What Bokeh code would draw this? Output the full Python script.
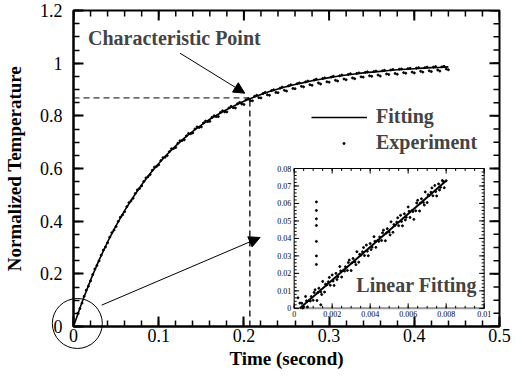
import math
from bokeh.plotting import figure
from bokeh.models import (Range1d, FixedTicker, Arrow, NormalHead, Label, Legend, LegendItem)
from bokeh.core.properties import value
from bokeh.embed import file_html
from bokeh.resources import INLINE

# ---------------- data ----------------
fit_t = [0.0, 0.01, 0.02, 0.03, 0.04, 0.05, 0.06, 0.07, 0.08, 0.09, 0.10, 0.11, 0.12, 0.13, 0.14,
         0.15, 0.16, 0.17, 0.18, 0.19, 0.20, 0.21, 0.22, 0.23, 0.24, 0.25, 0.26, 0.27, 0.28, 0.29,
         0.30, 0.31, 0.32, 0.33, 0.34, 0.35, 0.36, 0.37, 0.38, 0.39, 0.40, 0.41, 0.42, 0.43, 0.44]
fit_y = [0.0, 0.092, 0.176, 0.252, 0.321, 0.383, 0.440, 0.491, 0.538, 0.581, 0.619, 0.654, 0.686,
         0.715, 0.741, 0.765, 0.787, 0.806, 0.824, 0.840, 0.855, 0.869, 0.881, 0.892, 0.902, 0.911,
         0.919, 0.926, 0.933, 0.939, 0.945, 0.950, 0.955, 0.959, 0.963, 0.966, 0.969, 0.972, 0.975,
         0.977, 0.979, 0.981, 0.983, 0.984, 0.986]

exp_t_a = [0.005, 0.010, 0.015, 0.020, 0.025, 0.030, 0.035, 0.040, 0.045, 0.050, 0.055, 0.060,
           0.065, 0.070, 0.075, 0.080, 0.085, 0.090, 0.095, 0.100, 0.105, 0.110, 0.115, 0.120,
           0.125, 0.130, 0.135, 0.140, 0.145, 0.150, 0.155, 0.160, 0.165, 0.170, 0.175, 0.180,
           0.185, 0.190, 0.195, 0.200, 0.205, 0.210, 0.215, 0.220, 0.225, 0.230, 0.235, 0.240,
           0.245, 0.250, 0.255, 0.260, 0.265, 0.270, 0.275, 0.280, 0.285, 0.290, 0.295, 0.300,
           0.305, 0.310, 0.315, 0.320, 0.325, 0.330, 0.335, 0.340, 0.345, 0.350, 0.355, 0.360,
           0.365, 0.370, 0.375, 0.380, 0.385, 0.390, 0.395, 0.400, 0.405, 0.410, 0.415, 0.420,
           0.425, 0.430, 0.435, 0.440]
exp_y_a = [0.050, 0.089, 0.138, 0.173, 0.218, 0.249, 0.290, 0.318, 0.356, 0.380, 0.415, 0.436,
           0.470, 0.487, 0.519, 0.534, 0.564, 0.577, 0.605, 0.614, 0.641, 0.649, 0.675, 0.680,
           0.705, 0.709, 0.733, 0.735, 0.758, 0.758, 0.780, 0.779, 0.800, 0.797, 0.819, 0.815,
           0.836, 0.830, 0.851, 0.843, 0.865, 0.857, 0.878, 0.868, 0.889, 0.878, 0.899, 0.888,
           0.909, 0.894, 0.918, 0.903, 0.925, 0.910, 0.932, 0.916, 0.939, 0.921, 0.944, 0.928,
           0.950, 0.932, 0.955, 0.937, 0.960, 0.941, 0.963, 0.947, 0.967, 0.950, 0.970, 0.951,
           0.973, 0.957, 0.976, 0.958, 0.978, 0.962, 0.981, 0.963, 0.983, 0.966, 0.985, 0.968,
           0.987, 0.970, 0.988, 0.975]
exp_t_b = [0.0075, 0.0125, 0.0175, 0.0225, 0.0275, 0.0325, 0.0375, 0.0425, 0.0475, 0.0525,
           0.0575, 0.0625, 0.0675, 0.0725, 0.0775, 0.0825, 0.0875, 0.0925, 0.0975, 0.1025,
           0.1075, 0.1125, 0.1175, 0.1225, 0.1275, 0.1325, 0.1375, 0.1425, 0.1475, 0.1525,
           0.1575, 0.1625, 0.1675, 0.1725, 0.1775, 0.1825, 0.1875, 0.1925, 0.1975, 0.2025,
           0.2075, 0.2125, 0.2175, 0.2225, 0.2275, 0.2325, 0.2375, 0.2425, 0.2475, 0.2525,
           0.2575, 0.2625, 0.2675, 0.2725, 0.2775, 0.2825, 0.2875, 0.2925, 0.2975, 0.3025,
           0.3075, 0.3125, 0.3175, 0.3225, 0.3275, 0.3325, 0.3375, 0.3425, 0.3475, 0.3525,
           0.3575, 0.3625, 0.3675, 0.3725, 0.3775, 0.3825, 0.3875, 0.3925, 0.3975, 0.4025,
           0.4075, 0.4125, 0.4175, 0.4225, 0.4275, 0.4325, 0.4375]
exp_y_b = [0.068, 0.115, 0.153, 0.197, 0.232, 0.271, 0.302, 0.339, 0.366, 0.399, 0.424, 0.455,
           0.477, 0.505, 0.524, 0.551, 0.569, 0.593, 0.608, 0.630, 0.643, 0.664, 0.676, 0.696,
           0.706, 0.724, 0.732, 0.750, 0.756, 0.773, 0.778, 0.794, 0.797, 0.813, 0.815, 0.830,
           0.831, 0.846, 0.845, 0.861, 0.858, 0.874, 0.869, 0.885, 0.880, 0.896, 0.889, 0.905,
           0.897, 0.914, 0.904, 0.922, 0.912, 0.929, 0.918, 0.936, 0.925, 0.942, 0.929, 0.947,
           0.935, 0.952, 0.940, 0.957, 0.944, 0.961, 0.948, 0.965, 0.952, 0.968, 0.955, 0.971,
           0.959, 0.974, 0.961, 0.977, 0.964, 0.979, 0.966, 0.981, 0.969, 0.983, 0.971, 0.985,
           0.974, 0.986, 0.978]

char_t = 0.207     # characteristic point (time)
char_y = 0.868     # characteristic point (normalized temperature)

zoom_t = [0.0045]  # circled region near the origin
zoom_y = [0.0115]

ins_fit_t = [0.0003, 0.0080]
ins_fit_y = [0.0, 0.073]
ins_t = [0.0004, 0.0005, 0.0006, 0.0007, 0.0008, 0.0009, 0.0010, 0.0011, 0.0012, 0.0013,
         0.0014, 0.0015, 0.0016, 0.0017, 0.0018, 0.0019, 0.0020, 0.0021, 0.0022, 0.0023,
         0.0024, 0.0025, 0.0026, 0.0027, 0.0028, 0.0029, 0.0030, 0.0031, 0.0032, 0.0033,
         0.0034, 0.0035, 0.0036, 0.0037, 0.0038, 0.0039, 0.0040, 0.0041, 0.0042, 0.0043,
         0.0044, 0.0045, 0.0046, 0.0047, 0.0048, 0.0049, 0.0050, 0.0051, 0.0052, 0.0053,
         0.0054, 0.0055, 0.0056, 0.0057, 0.0058, 0.0059, 0.0060, 0.0061, 0.0062, 0.0063,
         0.0064, 0.0065, 0.0066, 0.0067, 0.0068, 0.0069, 0.0070, 0.0071, 0.0072, 0.0073,
         0.0074, 0.0075, 0.0076, 0.0077, 0.0078, 0.0079, 0.0080,
         0.00045, 0.00065, 0.00085, 0.00105, 0.00125, 0.00145, 0.00165, 0.00185, 0.00205,
         0.00225, 0.00245, 0.00265, 0.00285, 0.00305, 0.00325, 0.00345, 0.00365, 0.00385,
         0.00405, 0.00425, 0.00445, 0.00465, 0.00485, 0.00505, 0.00525, 0.00545, 0.00565,
         0.00585, 0.00605, 0.00625, 0.00645, 0.00665, 0.00685, 0.00705, 0.00725, 0.00745,
         0.00765, 0.00785,
         0.00117, 0.00117, 0.00117, 0.00117, 0.00117, 0.00117, 0.00117,
         0.0002, 0.0003, 0.0014]
ins_y = [0.0029, 0.0009, 0.0068, 0.0008, 0.0047, 0.0067, 0.0046, 0.0106, 0.0045, 0.0115,
         0.0094, 0.0154, 0.0093, 0.0133, 0.0152, 0.0132, 0.0191, 0.0131, 0.0200, 0.0180,
         0.0239, 0.0179, 0.0218, 0.0238, 0.0217, 0.0276, 0.0216, 0.0285, 0.0265, 0.0324,
         0.0264, 0.0303, 0.0323, 0.0302, 0.0362, 0.0301, 0.0371, 0.0350, 0.0410, 0.0349,
         0.0389, 0.0408, 0.0388, 0.0447, 0.0387, 0.0456, 0.0436, 0.0495, 0.0435, 0.0474,
         0.0493, 0.0473, 0.0532, 0.0472, 0.0541, 0.0521, 0.0580, 0.0520, 0.0559, 0.0509,
         0.0558, 0.0618, 0.0557, 0.0627, 0.0606, 0.0666, 0.0605, 0.0645, 0.0664, 0.0644,
         0.0703, 0.0643, 0.0712, 0.0692, 0.0731, 0.0690, 0.0730,
         0.0002, 0.0043, 0.0042, 0.0091, 0.0090, 0.0079, 0.0138, 0.0177, 0.0156,
         0.0165, 0.0214, 0.0213, 0.0262, 0.0261, 0.0250, 0.0309, 0.0348, 0.0327,
         0.0336, 0.0384, 0.0383, 0.0432, 0.0431, 0.0420, 0.0479, 0.0518, 0.0497,
         0.0506, 0.0555, 0.0554, 0.0603, 0.0602, 0.0591, 0.0650, 0.0689, 0.0668,
         0.0677, 0.0726,
         0.0609, 0.0560, 0.0512, 0.0474, 0.0383, 0.0300, 0.0251,
         0.0060, 0.0030, 0.0020]

x_ticks = [0, 0.1, 0.2, 0.3, 0.4, 0.5]
x_tick_labels = ["0", "0.1", "0.2", "0.3", "0.4", "0.5"]
y_ticks = [0, 0.2, 0.4, 0.6, 0.8, 1.0, 1.2]
y_tick_labels = ["0", "0.2", "0.4", "0.6", "0.8", "1", "1.2"]
ins_x_ticks = [0, 0.002, 0.004, 0.006, 0.008, 0.01]
ins_x_labels = ["0", "0.002", "0.004", "0.006", "0.008", "0.01"]
ins_y_ticks = [0, 0.01, 0.02, 0.03, 0.04, 0.05, 0.06, 0.07, 0.08]
ins_y_labels = ["0", "0.01", "0.02", "0.03", "0.04", "0.05", "0.06", "0.07", "0.08"]

# ---------------- layout constants ----------------
SERIF = "Liberation Serif"
X0, X1, Y0, Y1 = 0.0, 0.5, 0.0, 1.2
# inset box expressed in main-data units (left, right, bottom, top)
IB_L, IB_R, IB_B, IB_T = 0.259, 0.482, 0.069, 0.600

p = figure(width=511, height=371, x_range=Range1d(X0, X1), y_range=Range1d(Y0, Y1),
           output_backend="svg", toolbar_location=None,
           min_border_left=0, min_border_top=10, min_border_right=12, min_border_bottom=0)
p.grid.visible = False
p.outline_line_color = "black"
p.outline_line_width = 2
p.background_fill_color = "white"

x_minor = [round(0.02 * i, 4) for i in range(26)]
y_minor = [round(0.05 * i, 4) for i in range(25)]


def style_axis(ax, ticks, minor, labels):
    ax.ticker = FixedTicker(ticks=ticks, minor_ticks=minor)
    ax.axis_line_width = 2
    ax.axis_line_color = "black"
    ax.major_tick_in = 10
    ax.major_tick_out = 0
    ax.minor_tick_in = 6
    ax.minor_tick_out = 0
    ax.major_tick_line_width = 2
    ax.minor_tick_line_width = 1.5
    ax.major_label_text_font = SERIF
    ax.major_label_text_font_size = "18px"
    ax.major_label_text_color = "black"
    ax.axis_label_text_font = SERIF
    ax.axis_label_text_font_style = "bold"
    ax.axis_label_text_font_size = "19px"
    ax.axis_label_text_color = "black"
    ax.major_label_overrides = {t: l for t, l in zip(ticks, labels)}


xa = p.xaxis[0]
style_axis(xa, x_ticks, x_minor, x_tick_labels)
xa.axis_label = "Time (second)"
xa.major_label_standoff = 2
xa.axis_label_standoff = 3

ya = p.yaxis[0]
style_axis(ya, y_ticks, y_minor, y_tick_labels)
ya.axis_label = "Normalized Temperature"
ya.major_label_standoff = 11
ya.axis_label_standoff = 12

# inward ticks on the top and right edges of the frame
for xs, ys, ang, ln, lw in [
    (x_ticks, [Y1] * len(x_ticks), -math.pi / 2, 10, 2),
    (x_minor, [Y1] * len(x_minor), -math.pi / 2, 6, 1.5),
    ([X1] * len(y_ticks), y_ticks, math.pi, 10, 2),
    ([X1] * len(y_minor), y_minor, math.pi, 6, 1.5),
]:
    p.ray(x=xs, y=ys, length=ln, angle=ang, length_units="screen",
          line_color="black", line_width=lw)

# dashed guides to the characteristic point
p.line([X0, char_t], [char_y, char_y], line_color="black", line_width=1, line_dash="6 4")
p.line([char_t, char_t], [Y0, char_y], line_color="black", line_width=1.3, line_dash="6 4")

# main curves
r_fit = p.line(fit_t, fit_y, line_color="black", line_width=1.6)
r_exp = p.scatter(exp_t_a + exp_t_b, exp_y_a + exp_y_b, marker="circle", size=2.0,
                  fill_color="black", line_color="black")

# circle around origin (overlay level so it is not clipped to the frame)
p.scatter(zoom_t, zoom_y, marker="circle", size=50, fill_alpha=0, line_color="black",
          line_width=1, level="overlay")

# legends
leg_style = dict(background_fill_alpha=0, border_line_color=None, label_text_font=SERIF,
                 label_text_font_style="bold", label_text_font_size="20px",
                 glyph_height=18, label_height=18, spacing=0, padding=0, margin=0)
p.add_layout(Legend(items=[LegendItem(label="Fitting", renderers=[r_fit])],
                    location=(238, 198), glyph_width=56, label_standoff=9, **leg_style))
p.add_layout(Legend(items=[LegendItem(label="Experiment", renderers=[r_exp])],
                    location=(268, 172), glyph_width=5, label_standoff=30, **leg_style))

# annotations
p.add_layout(Label(x=0.017, y=1.096, text="Characteristic Point", text_font=SERIF,
                   text_font_style="bold", text_font_size="20px", text_baseline="middle"))
p.add_layout(Arrow(end=NormalHead(size=11, fill_color="black", line_color="black"),
                   x_start=0.125, y_start=1.038, x_end=0.201, y_end=0.886,
                   line_color="black", line_width=1))
p.add_layout(Arrow(end=NormalHead(size=11, fill_color="black", line_color="black"),
                   x_start=0.033, y_start=0.081, x_end=0.219, y_end=0.338,
                   line_color="black", line_width=1))

# ---------------- inset (own ranges mapped onto a sub-box of the frame) ----------------
ix_lo, ix_hi = ins_x_ticks[0], ins_x_ticks[-1]
iy_lo, iy_hi = ins_y_ticks[0], ins_y_ticks[-1]
sx = (ix_hi - ix_lo) / (IB_R - IB_L)
sy = (iy_hi - iy_lo) / (IB_T - IB_B)
p.extra_x_ranges = {"ix": Range1d(ix_lo - (IB_L - X0) * sx, ix_hi + (X1 - IB_R) * sx)}
p.extra_y_ranges = {"iy": Range1d(iy_lo - (IB_B - Y0) * sy, iy_hi + (Y1 - IB_T) * sy)}
R = dict(x_range_name="ix", y_range_name="iy")

p.quad(left=[ix_lo], right=[ix_hi], bottom=[iy_lo], top=[iy_hi], fill_color="white",
       line_color="black", line_width=1, **R)
p.line([ix_lo, ix_hi], [iy_lo, iy_lo], line_color="#999999", line_width=2, **R)

ins_x_minor = [round(0.0005 * i, 5) for i in range(21)]
ins_y_minor = [round(0.002 * i, 4) for i in range(41)]
tick_specs = [
    (ins_x_ticks, [iy_lo] * len(ins_x_ticks), math.pi / 2, 5),
    (ins_x_ticks, [iy_hi] * len(ins_x_ticks), -math.pi / 2, 5),
    (ins_x_minor, [iy_lo] * len(ins_x_minor), math.pi / 2, 2.5),
    (ins_x_minor, [iy_hi] * len(ins_x_minor), -math.pi / 2, 2.5),
    ([ix_lo] * len(ins_y_ticks), ins_y_ticks, 0, 5),
    ([ix_hi] * len(ins_y_ticks), ins_y_ticks, math.pi, 5),
    ([ix_lo] * len(ins_y_minor), ins_y_minor, 0, 2.5),
    ([ix_hi] * len(ins_y_minor), ins_y_minor, math.pi, 2.5),
]
for xs, ys, ang, ln in tick_specs:
    p.ray(x=xs, y=ys, length=ln, angle=ang, length_units="screen",
          line_color="black", line_width=1, **R)

p.text(x=[ix_lo] * len(ins_y_ticks), y=ins_y_ticks, text=ins_y_labels, x_offset=-3,
       text_font=value(SERIF), text_font_size="8px", text_align="right",
       text_baseline="middle", text_color="black", **R)
p.text(x=ins_x_ticks, y=[iy_lo] * len(ins_x_ticks), text=ins_x_labels, y_offset=3,
       text_font=value(SERIF), text_font_size="8px", text_align="center",
       text_baseline="top", text_color="black", **R)

p.line(ins_fit_t, ins_fit_y, line_color="black", line_width=2, **R)
p.scatter(ins_t, ins_y, marker="circle", size=2, fill_color="black", line_color="black", **R)

p.add_layout(Label(x=0.00327, y=0.0133, text="Linear Fitting", text_font=SERIF,
                   text_font_style="bold", text_font_size="20px", text_baseline="middle",
                   **R))

open("out.html", "w").write(file_html(p, INLINE))
